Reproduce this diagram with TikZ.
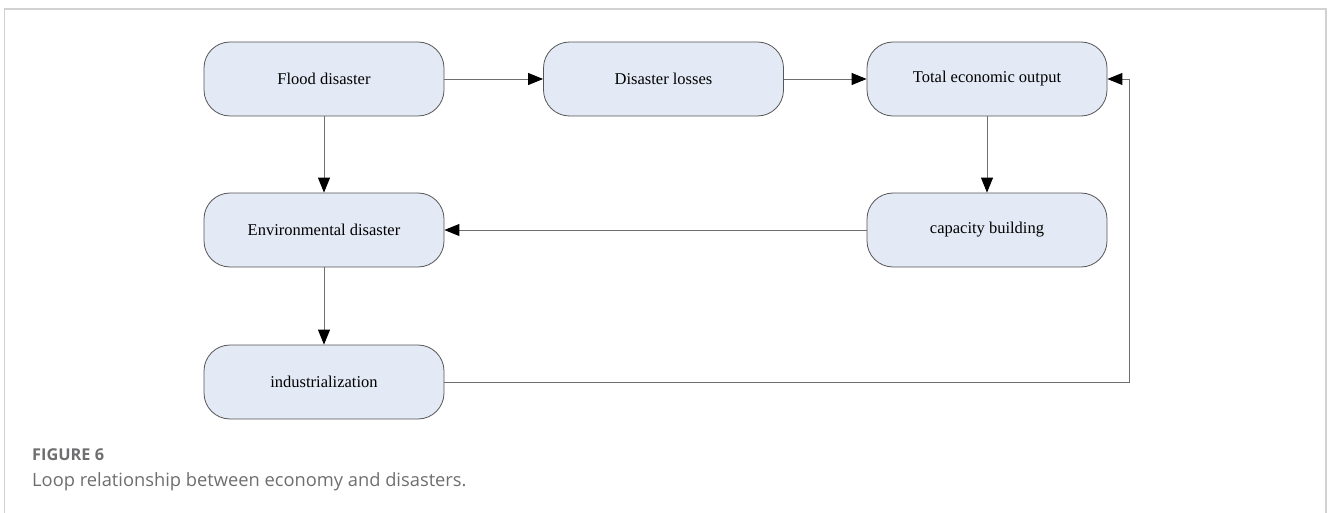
\documentclass[tikz,border=0pt]{standalone}
\usepackage{fontspec}
\setmainfont{Liberation Serif}
\newfontfamily\capfont{Open Sans}
\usetikzlibrary{arrows.meta}
\definecolor{boxfill}{RGB}{227,234,245}
\definecolor{boxline}{RGB}{85,85,85}
\definecolor{linegray}{RGB}{110,110,110}
\definecolor{framegray}{RGB}{210,210,210}
\definecolor{capgray}{RGB}{110,110,112}
\begin{document}
\begin{tikzpicture}[x=1pt,y=-1pt,
  box/.style={draw=boxline, fill=boxfill, rounded corners=26pt, minimum width=240pt, minimum height=74pt, inner sep=0pt, line width=0.8pt, font=\fontsize{16.5}{18}\selectfont},
  conn/.style={draw=linegray, line width=0.9pt, -{Triangle[length=15pt,width=12pt,color=black,fill=black]}},
  captitle/.style={anchor=west, inner sep=0pt, text=capgray, font=\capfont\bfseries\fontsize{16.3}{20}\selectfont},
  captext/.style={anchor=west, inner sep=0pt, text=capgray, font=\capfont\fontsize{18.3}{20}\selectfont}
]
\useasboundingbox (0,0) rectangle (1328,513);
\draw[framegray, line width=1.5pt] (4.5,513) -- (4.5,9) -- (1326,9) -- (1326,513);

\node[box] (flood) at (324,79) {Flood disaster};
\node[box] (losses) at (663.5,79) {Disaster losses};
\node[box] (total) at (987,79) {Total economic output};
\node[box] (env) at (324,230) {Environmental disaster};
\node[box] (cap) at (987,230) {capacity building};
\node[box] (ind) at (324,382) {industrialization};

\coordinate (c1) at (1129,382);
\coordinate (c2) at (1129,79);

\draw[conn] (flood.east) -- (losses.west);
\draw[conn] (losses.east) -- (total.west);
\draw[conn] (flood.south) -- (env.north);
\draw[conn] (total.south) -- (cap.north);
\draw[conn] (cap.west) -- (env.east);
\draw[conn] (env.south) -- (ind.north);
\draw[conn] (ind.east) -- (c1) -- (c2) -- (total.east);

\node[captitle] (figlabel) at (32,455) {FIGURE 6};
\node[captext] (figcap) at (32,482) {Loop relationship between economy and disasters.};
\end{tikzpicture}
\end{document}
